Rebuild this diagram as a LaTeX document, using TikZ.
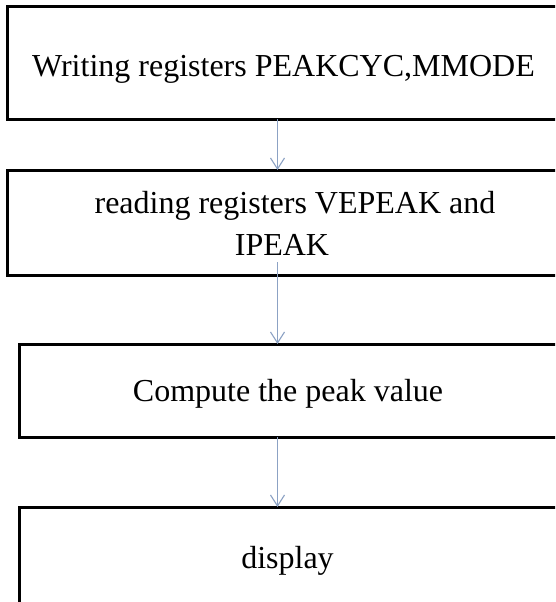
\documentclass[tikz,border=0pt]{standalone}
\usepackage{fontspec}
\setmainfont{Liberation Serif}
\usetikzlibrary{arrows.meta}
\definecolor{connblue}{RGB}{140,162,196}
\tikzset{
  box/.style={draw=black, line width=3pt, rectangle, inner sep=0pt, outer sep=0pt},
  lbl/.style={font=\fontsize{32}{42}\selectfont, inner sep=0pt, anchor=base},
  conn/.style={draw=connblue, line width=1.1pt, -{Straight Barb[length=11pt,width=14pt,line width=1.1pt]}}
}
\begin{document}
\begin{tikzpicture}[x=1pt,y=-1pt]
\useasboundingbox (0,0) rectangle (555,602);
\clip (0,0) rectangle (555,602);
\fill[white] (0,0) rectangle (555,602);
% boxes
\node[box, minimum width=552.5pt, minimum height=112pt] (b1) at (283.75,63) {};
\node[box, minimum width=552.5pt, minimum height=105pt] (b2) at (283.75,222.5) {};
\node[box, minimum width=540.5pt, minimum height=93pt] (b3) at (289.75,390.5) {};
\node[box, minimum width=540.5pt, minimum height=113pt] (b4) at (289.75,563.5) {};
% texts
\node[lbl] (t1) at (283.5,76) {Writing registers PEAKCYC,MMODE};
\node[lbl] (t2a) at (295,213) {reading registers VEPEAK and};
\node[lbl] (t2b) at (282,255) {IPEAK};
\node[lbl] (t3) at (288,401) {Compute the peak value};
\node[lbl] (t4) at (287.5,568) {display};
% connectors
\coordinate (ax) at (277.5,0);
\coordinate (a2s) at (277.5,262);
\draw[conn] (b1.south -| ax) -- (b2.north -| ax);
\draw[conn] (a2s) -- (b3.north -| ax);
\draw[conn] (b3.south -| ax) -- (b4.north -| ax);
\end{tikzpicture}
\end{document}
